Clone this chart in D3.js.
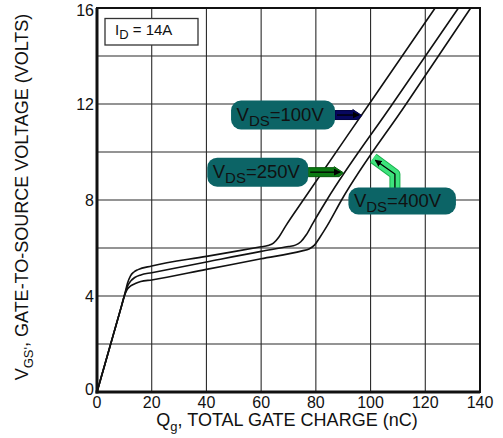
<!DOCTYPE html>
<html><head><meta charset="utf-8">
<script src="https://cdn.jsdelivr.net/npm/d3@7"></script>
<style>
body{margin:0;background:#fff}
svg{display:block}
text{font-family:"Liberation Sans",Arial,Helvetica,sans-serif;fill:#111}
</style>
</head><body>
<svg id="c" width="503" height="438"></svg>
<script>
// ---- data ----
const xTicks = [0, 20, 40, 60, 80, 100, 120, 140];
const yTicks = [0, 4, 8, 12, 16];
const xGrid = [20, 40, 60, 80, 100, 120];
const yGrid = [2, 4, 6, 8, 10, 12, 14];
const seriesNames = ["100V", "250V", "400V"];

const q100 = [0, 3, 6, 9, 10.3, 11.2, 12.2, 13.5, 15, 20, 40, 60, 62.5, 64.5, 66.5, 69, 75.4, 99.5, 123.6];
const v100 = [0, 1.2, 2.4, 3.6, 4.15, 4.55, 4.83, 5.0, 5.1, 5.25, 5.65, 6.05, 6.1, 6.2, 6.46, 6.92, 8, 12, 16];

const q250 = [0, 3, 6, 9, 10.3, 11.2, 12.3, 13.8, 16, 20, 40, 60, 70, 72.5, 74.5, 76.5, 79, 84, 108, 132.1];
const v250 = [0, 1.2, 2.4, 3.6, 4.12, 4.42, 4.62, 4.77, 4.88, 4.97, 5.42, 5.86, 6.06, 6.12, 6.26, 6.55, 7.05, 8, 12, 16];

const q400 = [0, 3, 6, 9, 10.3, 11.2, 12.3, 14, 16, 20, 40, 60, 75, 77.5, 79.5, 81.5, 84, 89.4, 113, 136.6];
const v400 = [0, 1.2, 2.4, 3.6, 4.1, 4.3, 4.42, 4.52, 4.6, 4.67, 5.11, 5.55, 5.88, 5.96, 6.12, 6.45, 6.9, 8, 12, 16];

// annotation anchors (data units)
const boxQ0 = [49.0, 40.3, 91.9];
const boxQ1 = [87.0, 77.2, 131.2];
const boxV = [11.54, 9.16, 7.96];
const arrowColors = ["#07075e", "#0b7a12", "#3de37c"];
const arrowEdge = ["#000040", "#045a08", "#18b04c"];
const arrow100 = [[87.0, 11.54], [96.8, 11.54]];
const arrow250 = [[77.2, 9.16], [90.0, 9.16]];
const arrow400 = [[108.9, 8.44], [108.9, 9.08], [101.0, 9.74]];

// ---- scales ----
const svg = d3.select("#c");
const x = d3.scaleLinear().domain([0, 140]).range([97, 480]);
const y = d3.scaleLinear().domain([0, 16]).range([392, 8]);

const defs = svg.append("defs");
defs.append("marker").attr("id", "ah").attr("viewBox", "0 0 10 10")
  .attr("refX", 9).attr("refY", 5).attr("markerWidth", 7).attr("markerHeight", 7)
  .attr("markerUnits", "userSpaceOnUse").attr("orient", "auto")
  .append("path").attr("d", "M0,0 L10,5 L0,10 z").attr("fill", "#000");

// grid
svg.append("g").selectAll("line").data(xGrid).join("line")
  .attr("x1", d => x(d)).attr("x2", d => x(d)).attr("y1", y(0)).attr("y2", y(16))
  .attr("stroke", "#2a2a2a").attr("stroke-width", 1.1);
svg.append("g").selectAll("line").data(yGrid).join("line")
  .attr("y1", d => y(d)).attr("y2", d => y(d)).attr("x1", x(0)).attr("x2", x(140))
  .attr("stroke", "#2a2a2a").attr("stroke-width", 1.1);

// curves
const line = d3.line().x(d => x(d[0])).y(d => y(d[1])).curve(d3.curveMonotoneX);
const curves = [d3.zip(q100, v100), d3.zip(q250, v250), d3.zip(q400, v400)];
svg.append("g").selectAll("path").data(curves).join("path")
  .attr("d", line).attr("fill", "none").attr("stroke", "#111").attr("stroke-width", 1.6);

// frame
svg.append("rect").attr("x", x(0)).attr("y", y(16)).attr("width", x(140) - x(0)).attr("height", y(0) - y(16))
  .attr("fill", "none").attr("stroke", "#111").attr("stroke-width", 2);
svg.append("line").attr("x1", x(0)).attr("x2", x(0)).attr("y1", y(16)).attr("y2", y(0) + 1.5)
  .attr("stroke", "#111").attr("stroke-width", 3);
svg.append("line").attr("x1", x(0) - 1.5).attr("x2", x(140)).attr("y1", y(0)).attr("y2", y(0))
  .attr("stroke", "#111").attr("stroke-width", 3);

// axis tick labels
svg.append("g").selectAll("text").data(xTicks).join("text")
  .attr("x", d => x(d)).attr("y", 408).attr("text-anchor", "middle")
  .attr("font-size", 16).text(d => d);
svg.append("g").selectAll("text").data(yTicks).join("text")
  .attr("x", 94).attr("y", d => y(d) + 6 - (d === 0 ? 3 : 0) + (d === 16 ? 2 : 0))
  .attr("text-anchor", "end").attr("font-size", 16).text(d => d);

// axis titles
const xt = svg.append("text").attr("x", 287).attr("y", 426).attr("text-anchor", "middle")
  .attr("font-size", 18);
xt.append("tspan").text("Q");
xt.append("tspan").attr("font-size", 13).attr("dy", 5).text("g");
xt.append("tspan").attr("dy", -5).text(", TOTAL GATE CHARGE (nC)");

const yt = svg.append("text").attr("transform", "translate(28,197) rotate(-90)")
  .attr("text-anchor", "middle").attr("font-size", 18);
yt.append("tspan").text("V");
yt.append("tspan").attr("font-size", 13).attr("dy", 5).text("GS'");
yt.append("tspan").attr("dy", -5).text(", GATE-TO-SOURCE VOLTAGE (VOLTS)");

// ID box
svg.append("rect").attr("x", 105).attr("y", 18.5).attr("width", 93).attr("height", 26.5)
  .attr("fill", "#fff").attr("stroke", "#333").attr("stroke-width", 1.3);
const idt = svg.append("text").attr("x", 115).attr("y", 35).attr("font-size", 15);
idt.append("tspan").text("I");
idt.append("tspan").attr("font-size", 13).attr("dy", 4).text("D");
idt.append("tspan").attr("dy", -4).text(" = 14A");

// arrows
function straightArrow(pts, i) {
  const x0 = x(pts[0][0]), xt2 = x(pts[1][0]), yc = y(pts[0][1]);
  const poly = [[x0, yc - 4.5], [xt2 - 9, yc - 4.5], [xt2 - 9, yc - 5.5], [xt2, yc + 0.5], [xt2 - 4, yc + 4.5], [x0, yc + 4.5]];
  svg.append("path").attr("d", d3.line()(poly) + "Z")
    .attr("fill", arrowColors[i]).attr("stroke", arrowEdge[i]).attr("stroke-width", 1);
  svg.append("line").attr("x1", x0 + 2).attr("x2", xt2 - 3).attr("y1", yc).attr("y2", yc)
    .attr("stroke", "#000").attr("stroke-width", 1.3).attr("marker-end", "url(#ah)");
}
straightArrow(arrow100, 0);
straightArrow(arrow250, 1);
const bent = arrow400.map(p => [x(p[0]), y(p[1])]);
svg.append("path").attr("d", d3.line()(bent)).attr("fill", "none")
  .attr("stroke", arrowEdge[2]).attr("stroke-width", 11).attr("stroke-linejoin", "round");
svg.append("path").attr("d", d3.line()(bent)).attr("fill", "none")
  .attr("stroke", arrowColors[2]).attr("stroke-width", 9).attr("stroke-linejoin", "round");
svg.append("path").attr("d", d3.line()(bent.map((p, k) => k === 2 ? [p[0] + 2, p[1] + 2] : p)))
  .attr("fill", "none").attr("stroke", "#000").attr("stroke-width", 1.3).attr("marker-end", "url(#ah)");

// label boxes
seriesNames.forEach((s, i) => {
  const bx = x(boxQ0[i]), bw = x(boxQ1[i]) - x(boxQ0[i]), cy = y(boxV[i]);
  const h = i === 2 ? 27 : 29;
  svg.append("rect").attr("x", bx).attr("y", cy - h / 2).attr("width", bw).attr("height", h)
    .attr("rx", 10).attr("fill", "#0c6466");
  const t = svg.append("text").attr("x", bx + 5.5).attr("y", cy + 6).attr("font-size", 18.5);
  t.append("tspan").text("V");
  t.append("tspan").attr("font-size", 15).attr("dy", 5).text("DS");
  t.append("tspan").attr("dy", -5).text("=" + s);
});
</script>
</body></html>
